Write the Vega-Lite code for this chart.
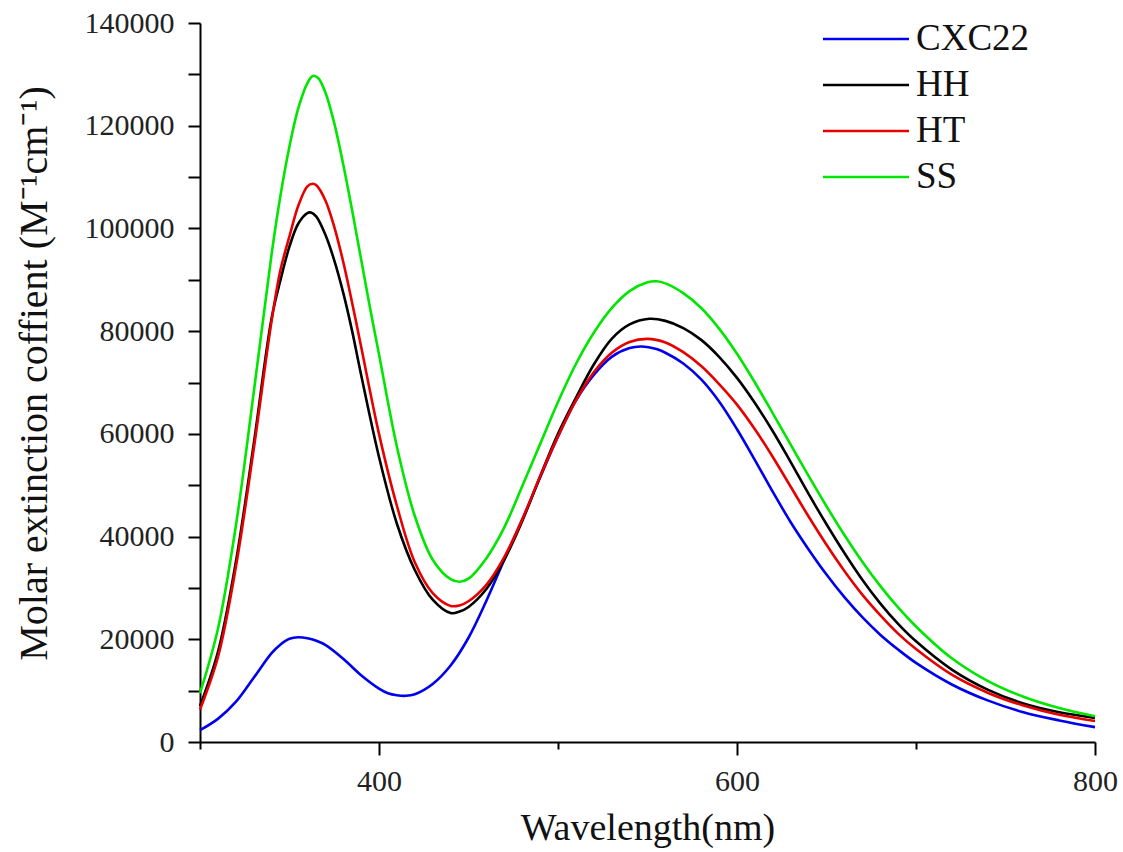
{
  "$schema": "https://vega.github.io/schema/vega-lite/v6.json",
  "width": 895,
  "height": 719,
  "autosize": {"type": "none"},
  "padding": {"left": 200, "top": 23, "right": 28, "bottom": 110},
  "background": "white",
  "config": {"view": {"stroke": null}, "font": "Liberation Serif"},
  "datasets": {
    "spectra": [
      {"s":"CXC22","w":300,"v":2300},{"s":"CXC22","w":310,"v":4500},{"s":"CXC22","w":320,"v":7800},{"s":"CXC22","w":330,"v":12500},{"s":"CXC22","w":340,"v":17300},{"s":"CXC22","w":345,"v":19000},{"s":"CXC22","w":350,"v":20100},{"s":"CXC22","w":355,"v":20400},{"s":"CXC22","w":360,"v":20200},{"s":"CXC22","w":365,"v":19700},{"s":"CXC22","w":370,"v":18900},{"s":"CXC22","w":380,"v":16200},{"s":"CXC22","w":390,"v":13000},{"s":"CXC22","w":400,"v":10400},{"s":"CXC22","w":405,"v":9500},{"s":"CXC22","w":410,"v":9100},{"s":"CXC22","w":415,"v":9000},{"s":"CXC22","w":420,"v":9300},{"s":"CXC22","w":430,"v":11300},{"s":"CXC22","w":440,"v":14900},{"s":"CXC22","w":450,"v":20300},{"s":"CXC22","w":460,"v":27500},{"s":"CXC22","w":470,"v":35500},{"s":"CXC22","w":480,"v":43300},{"s":"CXC22","w":490,"v":51500},{"s":"CXC22","w":500,"v":59500},{"s":"CXC22","w":510,"v":66500},{"s":"CXC22","w":520,"v":71500},{"s":"CXC22","w":530,"v":75000},{"s":"CXC22","w":540,"v":76700},{"s":"CXC22","w":547,"v":77000},{"s":"CXC22","w":555,"v":76500},{"s":"CXC22","w":560,"v":75800},{"s":"CXC22","w":570,"v":73700},{"s":"CXC22","w":580,"v":70600},{"s":"CXC22","w":590,"v":66300},{"s":"CXC22","w":600,"v":60900},{"s":"CXC22","w":610,"v":54900},{"s":"CXC22","w":620,"v":48700},{"s":"CXC22","w":630,"v":42800},{"s":"CXC22","w":640,"v":37500},{"s":"CXC22","w":650,"v":32600},{"s":"CXC22","w":660,"v":28200},{"s":"CXC22","w":670,"v":24300},{"s":"CXC22","w":680,"v":20900},{"s":"CXC22","w":690,"v":18000},{"s":"CXC22","w":700,"v":15400},{"s":"CXC22","w":720,"v":11200},{"s":"CXC22","w":740,"v":8100},{"s":"CXC22","w":760,"v":5800},{"s":"CXC22","w":780,"v":4200},{"s":"CXC22","w":800,"v":2900},
      {"s":"HH","w":300,"v":7000},{"s":"HH","w":310,"v":17500},{"s":"HH","w":320,"v":35000},{"s":"HH","w":330,"v":58000},{"s":"HH","w":340,"v":82500},{"s":"HH","w":345,"v":90000},{"s":"HH","w":350,"v":96500},{"s":"HH","w":355,"v":101000},{"s":"HH","w":360,"v":103000},{"s":"HH","w":362,"v":103100},{"s":"HH","w":365,"v":102300},{"s":"HH","w":370,"v":98800},{"s":"HH","w":375,"v":93800},{"s":"HH","w":380,"v":87500},{"s":"HH","w":385,"v":80000},{"s":"HH","w":390,"v":71500},{"s":"HH","w":400,"v":55500},{"s":"HH","w":410,"v":42500},{"s":"HH","w":420,"v":33500},{"s":"HH","w":430,"v":27700},{"s":"HH","w":440,"v":25100},{"s":"HH","w":445,"v":25400},{"s":"HH","w":450,"v":26300},{"s":"HH","w":460,"v":29800},{"s":"HH","w":470,"v":35500},{"s":"HH","w":480,"v":43000},{"s":"HH","w":490,"v":51700},{"s":"HH","w":500,"v":60000},{"s":"HH","w":510,"v":67000},{"s":"HH","w":520,"v":73500},{"s":"HH","w":530,"v":78500},{"s":"HH","w":540,"v":81300},{"s":"HH","w":551,"v":82400},{"s":"HH","w":560,"v":82000},{"s":"HH","w":570,"v":80600},{"s":"HH","w":580,"v":78300},{"s":"HH","w":590,"v":75000},{"s":"HH","w":600,"v":70900},{"s":"HH","w":610,"v":66000},{"s":"HH","w":620,"v":60500},{"s":"HH","w":630,"v":54500},{"s":"HH","w":640,"v":48300},{"s":"HH","w":650,"v":42400},{"s":"HH","w":660,"v":36800},{"s":"HH","w":670,"v":31600},{"s":"HH","w":680,"v":27000},{"s":"HH","w":690,"v":23000},{"s":"HH","w":700,"v":19600},{"s":"HH","w":720,"v":14100},{"s":"HH","w":740,"v":10200},{"s":"HH","w":760,"v":7500},{"s":"HH","w":780,"v":5800},{"s":"HH","w":800,"v":4700},
      {"s":"HT","w":300,"v":6300},{"s":"HT","w":310,"v":16500},{"s":"HT","w":320,"v":34000},{"s":"HT","w":330,"v":57000},{"s":"HT","w":340,"v":82000},{"s":"HT","w":345,"v":92000},{"s":"HT","w":350,"v":98500},{"s":"HT","w":355,"v":104500},{"s":"HT","w":360,"v":108200},{"s":"HT","w":363,"v":108700},{"s":"HT","w":365,"v":108400},{"s":"HT","w":370,"v":105500},{"s":"HT","w":375,"v":100300},{"s":"HT","w":380,"v":93500},{"s":"HT","w":385,"v":85500},{"s":"HT","w":390,"v":77000},{"s":"HT","w":400,"v":60000},{"s":"HT","w":410,"v":46000},{"s":"HT","w":420,"v":35000},{"s":"HT","w":430,"v":29000},{"s":"HT","w":440,"v":26500},{"s":"HT","w":445,"v":26600},{"s":"HT","w":450,"v":27400},{"s":"HT","w":460,"v":30600},{"s":"HT","w":470,"v":36000},{"s":"HT","w":480,"v":43300},{"s":"HT","w":490,"v":51700},{"s":"HT","w":500,"v":59500},{"s":"HT","w":510,"v":66500},{"s":"HT","w":520,"v":72000},{"s":"HT","w":530,"v":75800},{"s":"HT","w":540,"v":77900},{"s":"HT","w":550,"v":78500},{"s":"HT","w":560,"v":77800},{"s":"HT","w":570,"v":75900},{"s":"HT","w":580,"v":73200},{"s":"HT","w":590,"v":69700},{"s":"HT","w":600,"v":65700},{"s":"HT","w":610,"v":60900},{"s":"HT","w":620,"v":55500},{"s":"HT","w":630,"v":49700},{"s":"HT","w":640,"v":43900},{"s":"HT","w":650,"v":38400},{"s":"HT","w":660,"v":33300},{"s":"HT","w":670,"v":28700},{"s":"HT","w":680,"v":24700},{"s":"HT","w":690,"v":21100},{"s":"HT","w":700,"v":18100},{"s":"HT","w":720,"v":13100},{"s":"HT","w":740,"v":9600},{"s":"HT","w":760,"v":7100},{"s":"HT","w":780,"v":5300},{"s":"HT","w":800,"v":4100},
      {"s":"SS","w":300,"v":9500},{"s":"SS","w":310,"v":22000},{"s":"SS","w":320,"v":42000},{"s":"SS","w":330,"v":68000},{"s":"SS","w":340,"v":95000},{"s":"SS","w":345,"v":106500},{"s":"SS","w":350,"v":116000},{"s":"SS","w":355,"v":123500},{"s":"SS","w":360,"v":128300},{"s":"SS","w":363,"v":129700},{"s":"SS","w":366,"v":129300},{"s":"SS","w":370,"v":126500},{"s":"SS","w":375,"v":120500},{"s":"SS","w":380,"v":112500},{"s":"SS","w":385,"v":103500},{"s":"SS","w":390,"v":94000},{"s":"SS","w":395,"v":84500},{"s":"SS","w":400,"v":75500},{"s":"SS","w":410,"v":57500},{"s":"SS","w":420,"v":44000},{"s":"SS","w":430,"v":35500},{"s":"SS","w":440,"v":31700},{"s":"SS","w":445,"v":31200},{"s":"SS","w":450,"v":31800},{"s":"SS","w":460,"v":35800},{"s":"SS","w":470,"v":41800},{"s":"SS","w":480,"v":49800},{"s":"SS","w":490,"v":58000},{"s":"SS","w":500,"v":66200},{"s":"SS","w":510,"v":73600},{"s":"SS","w":520,"v":79700},{"s":"SS","w":530,"v":84500},{"s":"SS","w":540,"v":87800},{"s":"SS","w":550,"v":89500},{"s":"SS","w":555,"v":89700},{"s":"SS","w":560,"v":89300},{"s":"SS","w":570,"v":87400},{"s":"SS","w":580,"v":84500},{"s":"SS","w":590,"v":80500},{"s":"SS","w":600,"v":75600},{"s":"SS","w":610,"v":70000},{"s":"SS","w":620,"v":64000},{"s":"SS","w":630,"v":57900},{"s":"SS","w":640,"v":51800},{"s":"SS","w":650,"v":45900},{"s":"SS","w":660,"v":40300},{"s":"SS","w":670,"v":35100},{"s":"SS","w":680,"v":30400},{"s":"SS","w":690,"v":26200},{"s":"SS","w":700,"v":22500},{"s":"SS","w":720,"v":16300},{"s":"SS","w":740,"v":11900},{"s":"SS","w":760,"v":8800},{"s":"SS","w":780,"v":6600},{"s":"SS","w":800,"v":5000}
    ]
  },
  "data": {"name": "spectra"},
  "mark": {"type": "line", "interpolate": "catmull-rom", "strokeWidth": 2.6},
  "encoding": {
    "x": {
      "field": "w",
      "type": "quantitative",
      "scale": {"domain": [300, 800], "nice": false, "zero": false},
      "axis": {
        "title": "Wavelength(nm)",
        "values": [300, 400, 500, 600, 700, 800],
        "labelExpr": "datum.value % 200 == 0 ? datum.label : ''",
        "grid": false,
        "domainColor": "black",
        "domainWidth": 2,
        "tickColor": "black",
        "tickWidth": 2,
        "tickSize": {"condition": {"test": "datum.value % 200 == 0", "value": 13}, "value": 7},
        "labelFont": "Liberation Serif",
        "labelFontSize": 30,
        "labelColor": "#222222",
        "labelPadding": 11,
        "labelFlush": false,
        "labelOverlap": false,
        "titleFont": "Liberation Serif",
        "titleFontSize": 38,
        "titleFontWeight": "normal",
        "titleColor": "#111111",
        "titleY": 97,
        "titleBaseline": "alphabetic"
      }
    },
    "y": {
      "field": "v",
      "type": "quantitative",
      "scale": {"domain": [0, 140000], "nice": false},
      "axis": {
        "title": "Molar extinction coffient (M⁻¹cm⁻¹)",
        "values": [0, 10000, 20000, 30000, 40000, 50000, 60000, 70000, 80000, 90000, 100000, 110000, 120000, 130000, 140000],
        "format": "d",
        "labelExpr": "datum.value % 20000 == 0 ? datum.label : ''",
        "grid": false,
        "domainColor": "black",
        "domainWidth": 2,
        "tickColor": "black",
        "tickWidth": 2,
        "tickSize": 12,
        "labelFont": "Liberation Serif",
        "labelFontSize": 30,
        "labelColor": "#222222",
        "labelPadding": 14,
        "labelFlush": false,
        "labelOverlap": false,
        "titleFont": "Liberation Serif",
        "titleFontSize": 40,
        "titleFontWeight": "normal",
        "titleColor": "#111111",
        "titleX": -166,
        "titleY": 350,
        "titleBaseline": "middle"
      }
    },
    "color": {
      "field": "s",
      "type": "nominal",
      "scale": {"domain": ["CXC22", "HH", "HT", "SS"], "range": ["#0000ee", "#000000", "#e60000", "#00e600"]},
      "legend": {
        "title": null,
        "orient": "none",
        "legendX": 643,
        "legendY": -7,
        "symbolType": "M-2,0H2",
        "symbolSize": 1850,
        "symbolStrokeWidth": 2.6,
        "rowPadding": 5,
        "labelFont": "Liberation Serif",
        "labelFontSize": 37,
        "labelColor": "#111111",
        "labelOffset": 27
      }
    }
  }
}
